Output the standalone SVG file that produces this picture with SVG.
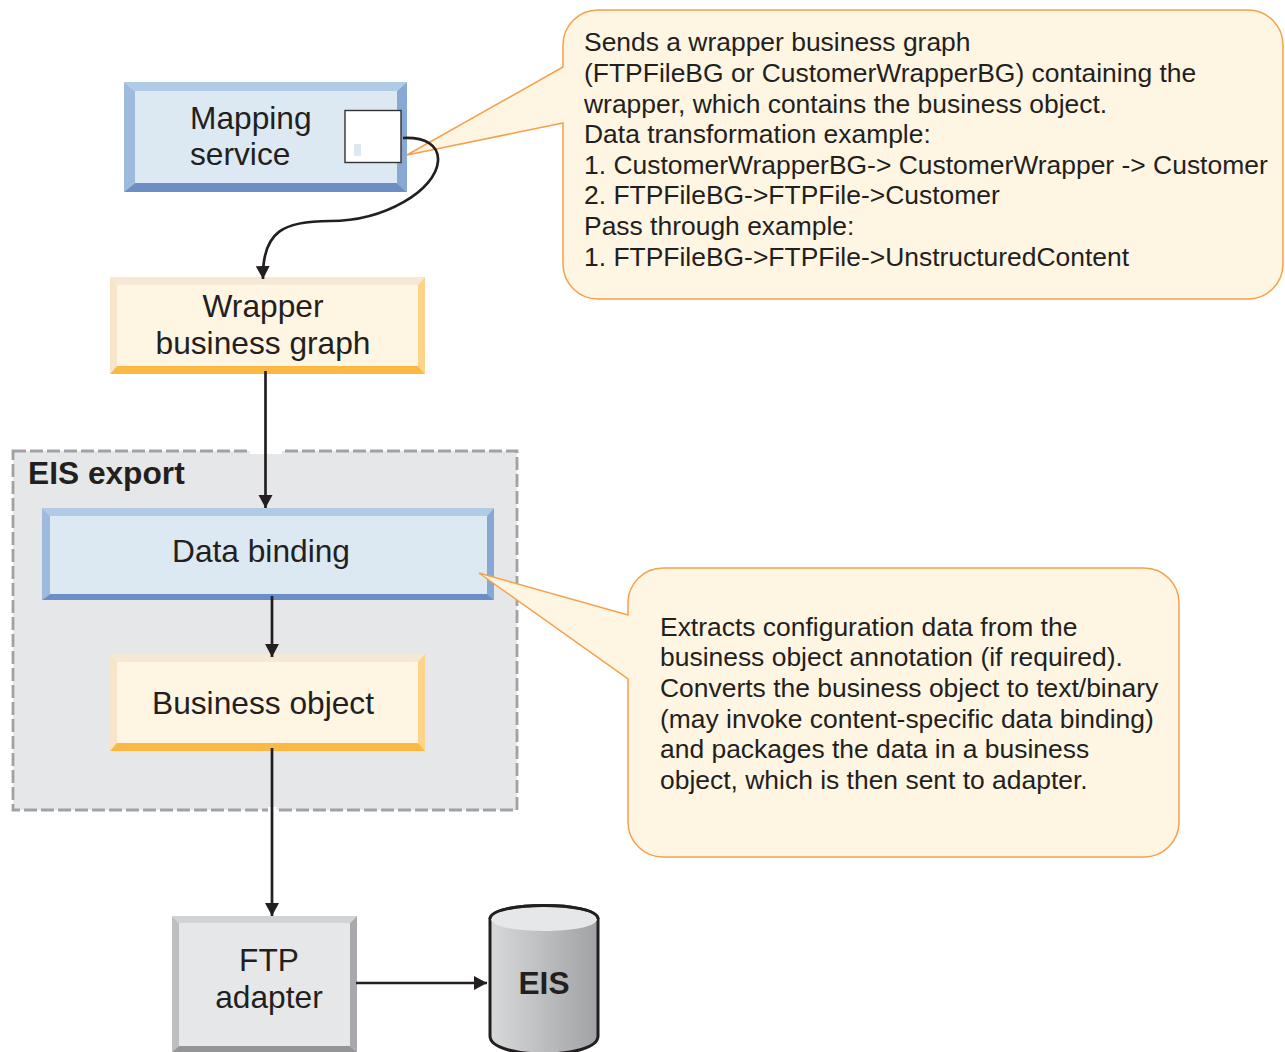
<svg xmlns="http://www.w3.org/2000/svg" width="1285" height="1052" viewBox="0 0 1285 1052">
<style>
text{font-family:"Liberation Sans",Arial,sans-serif;fill:#231f20}
.l{font-size:31.7px}
.c{font-size:26.45px}
.m{text-anchor:middle}
.b{font-weight:bold}
.conn{fill:none;stroke:#231f20;stroke-width:2.7}
.call{fill:#fff5e3;stroke:#f7a04a;stroke-width:1.5}
.bt{fill:#b0cbe6}.bl{fill:#9dbbdc}.br{fill:#86a8d3}.bb{fill:#6c8ec4}.bf{fill:#dce8f2}
.yt{fill:#f5e9d6}.yl{fill:#f6e5c8}.yr{fill:#fbd48a}.yb{fill:#fbb944}.yf{fill:#fff5e3}
.gt{fill:#d1d3d4}.gl{fill:#bcbec0}.gr{fill:#a7a9ac}.gb{fill:#939598}.gf{fill:#e6e7e8}
</style>
<defs>
<marker id="arr" markerUnits="userSpaceOnUse" markerWidth="15" markerHeight="15" refX="13" refY="7" orient="auto"><path d="M0 0L13 7L0 14Z" fill="#231f20"/></marker>
<linearGradient id="cyl" x1="0" x2="1" y1="0" y2="0"><stop offset="0" stop-color="#d8d9db"/><stop offset="1" stop-color="#a0a2a5"/></linearGradient>
</defs>
<g id="eis-export">
<rect x="13" y="451" width="504" height="359" fill="#e6e7e8" stroke="#a0a2a5" stroke-width="2.8" stroke-dasharray="13 4"/>
<rect x="250" y="448" width="32" height="6" fill="#fff"/>
<rect x="268" y="807" width="9" height="6" fill="#fff"/>
<text x="28" y="484" class="l b">EIS export</text>
</g>
<g id="callout-top">
<path class="call" d="M598 10H1248A35 35 0 0 1 1283 45V264A35 35 0 0 1 1248 299H598A35 35 0 0 1 563 264V123L407 155L563 67V45A35 35 0 0 1 598 10Z"/>
<text class="c" x="584">
<tspan x="584" y="51">Sends a wrapper business graph</tspan>
<tspan x="584" y="82">(FTPFileBG or CustomerWrapperBG) containing the</tspan>
<tspan x="584" y="113">wrapper, which contains the business object.</tspan>
<tspan x="584" y="143">Data transformation example:</tspan>
<tspan x="584" y="174">1. CustomerWrapperBG-&gt; CustomerWrapper -&gt; Customer</tspan>
<tspan x="584" y="204">2. FTPFileBG-&gt;FTPFile-&gt;Customer</tspan>
<tspan x="584" y="235">Pass through example:</tspan>
<tspan x="584" y="266">1. FTPFileBG-&gt;FTPFile-&gt;UnstructuredContent</tspan>
</text>
</g>
<g id="mapping-service">
<polygon class="bt" points="124,82 407,82 397,91 135,91"/>
<polygon class="bl" points="124,82 135,91 135,183 124,192"/>
<polygon class="br" points="407,82 407,192 397,183 397,91"/>
<polygon class="bb" points="124,192 135,183 397,183 407,192"/>
<rect class="bf" x="135" y="91" width="262" height="92"/>
<text class="l" x="190" y="129">Mapping</text>
<text class="l" x="190" y="165">service</text>
<rect x="345" y="110.500" width="56" height="52" fill="#fff" stroke="#333" stroke-width="1.4"/>
<rect class="bf" x="354" y="144" width="7" height="12"/>
</g>
<g id="wrapper-business-graph">
<polygon class="yt" points="110,277 425,277 418,285 117,285"/>
<polygon class="yl" points="110,277 117,285 117,366 110,374"/>
<polygon class="yr" points="425,277 425,374 418,366 418,285"/>
<polygon class="yb" points="110,374 117,366 418,366 425,374"/>
<rect class="yf" x="117" y="285" width="301" height="81"/>
<text class="l m" x="263" y="317">Wrapper</text>
<text class="l m" x="263" y="354">business graph</text>
</g>
<g id="data-binding">
<polygon class="bt" points="42,508 494,508 487,516 50,516"/>
<polygon class="bl" points="42,508 50,516 50,594 42,600"/>
<polygon class="br" points="494,508 494,600 487,594 487,516"/>
<polygon class="bb" points="42,600 50,594 487,594 494,600"/>
<rect class="bf" x="50" y="516" width="437" height="78"/>
<text class="l" x="172" y="562">Data binding</text>
</g>
<g id="callout-bottom">
<path class="call" d="M663 568H1144A35 35 0 0 1 1179 603V822A35 35 0 0 1 1144 857H663A35 35 0 0 1 628 822V679L479 573L628 615V603A35 35 0 0 1 663 568Z"/>
<text class="c">
<tspan x="660" y="636">Extracts configuration data from the</tspan>
<tspan x="660" y="666">business object annotation (if required).</tspan>
<tspan x="660" y="697">Converts the business object to text/binary</tspan>
<tspan x="660" y="728">(may invoke content-specific data binding)</tspan>
<tspan x="660" y="758">and packages the data in a business</tspan>
<tspan x="660" y="789">object, which is then sent to adapter.</tspan>
</text>
</g>
<g id="business-object">
<polygon class="yt" points="110,654 425,654 418,662 117,662"/>
<polygon class="yl" points="110,654 117,662 117,743 110,751"/>
<polygon class="yr" points="425,654 425,751 418,743 418,662"/>
<polygon class="yb" points="110,751 117,743 418,743 425,751"/>
<rect class="yf" x="117" y="662" width="301" height="81"/>
<text class="l" x="152" y="714">Business object</text>
</g>
<g id="ftp-adapter">
<polygon class="gt" points="172,916 357,916 350,923 179,923"/>
<polygon class="gl" points="172,916 179,923 179,1046 172,1052"/>
<polygon class="gr" points="357,916 357,1052 350,1046 350,923"/>
<polygon class="gb" points="172,1052 179,1046 350,1046 357,1052"/>
<rect class="gf" x="179" y="923" width="171" height="123"/>
<text class="l m" x="269" y="971">FTP</text>
<text class="l m" x="269" y="1008">adapter</text>
</g>
<g id="eis">
<path d="M490 919C490 901 598 901 598 919V1036C598 1060 490 1060 490 1036Z" fill="url(#cyl)" stroke="#231f20" stroke-width="3"/>
<path d="M491 919C491 935 597 935 597 919C597 903 491 903 491 919Z" fill="#e6e7e8"/>
<path d="M490 919C490 901 598 901 598 919" fill="none" stroke="#231f20" stroke-width="3"/>
<text class="l b m" x="544" y="994">EIS</text>
</g>
<g id="connectors">
<path class="conn" d="M403 138C425 137 439 145 438 161C436 190 385 221 330 221C285 221 262 230 263 279" marker-end="url(#arr)"/>
<path class="conn" d="M265.500 371V508" marker-end="url(#arr)"/>
<path class="conn" d="M272 596V657" marker-end="url(#arr)"/>
<path class="conn" d="M272 748V916" marker-end="url(#arr)"/>
<path class="conn" d="M356 983H487" marker-end="url(#arr)"/>
</g>
</svg>
